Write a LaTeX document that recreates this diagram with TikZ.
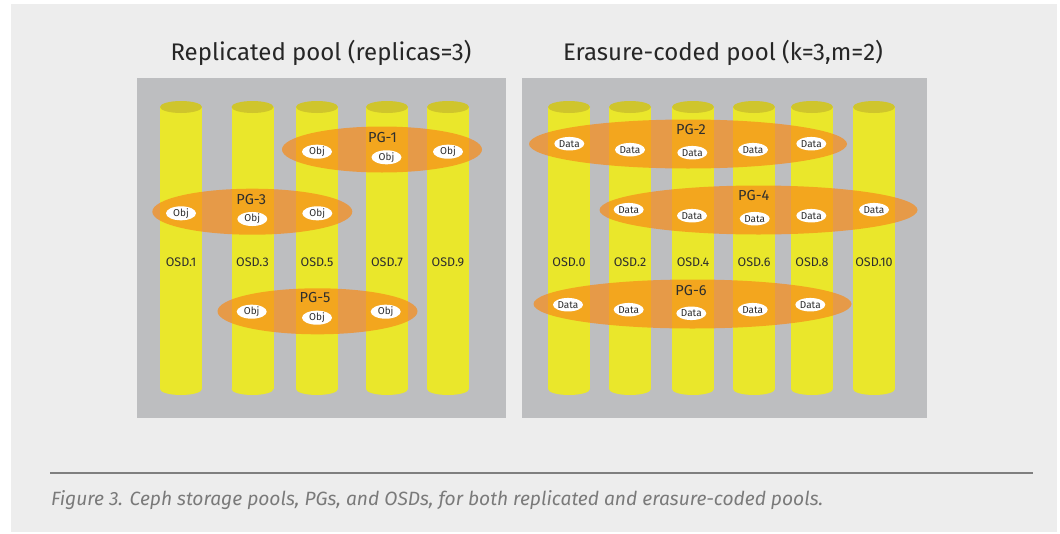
\documentclass[tikz,border=0pt]{standalone}
\usepackage{fontspec}
\setmainfont{Fira Sans}
\usetikzlibrary{shapes.geometric}
\definecolor{pagebg}{HTML}{EDEDED}
\definecolor{panelbg}{HTML}{BDBEC0}
\definecolor{osdbody}{HTML}{EAE72B}
\definecolor{osdcap}{HTML}{CFC52C}
\definecolor{pgorange}{RGB}{247,141,26}
\definecolor{txt}{HTML}{2E2E2E}
\definecolor{captxt}{HTML}{7A7A7A}
\definecolor{rulecol}{HTML}{7F7F7F}
\begin{document}
\begin{tikzpicture}[x=1pt,y=-1pt,
  osdlabel/.style={font=\fontsize{12.5}{14}\selectfont, text=txt, inner sep=0},
  pgshape/.style={ellipse, fill=pgorange, fill opacity=0.72, inner sep=0},
  pglabel/.style={font=\fontsize{14.5}{17}\selectfont, text=txt, inner sep=0},
  item/.style={ellipse, fill=white, inner sep=0, minimum width=30pt, minimum height=13.5pt,
    font=\fontsize{10}{11}\selectfont, text=txt},
  title/.style={font=\fontsize{24}{28}\selectfont, text=black!85, inner sep=0}
]
\useasboundingbox (0,0) rectangle (1060,533);
\fill[white] (0,0) rectangle (1060,533);
\fill[pagebg] (11,4) rectangle (1057,532);
% panels
\fill[panelbg] (137,78) rectangle (506,418);
\fill[panelbg] (522,78) rectangle (927,418);
% titles
\node[title] (t1) at (321,53) {Replicated pool (replicas=3)};
\node[title] (t2) at (723,53) {Erasure-coded pool (k=3,m=2)};
% cylinders
\foreach \cx/\nm/\lb in {181/o1/OSD.1, 252.5/o3/OSD.3, 317/o5/OSD.5, 387/o7/OSD.7, 448/o9/OSD.9,
  569/o0/OSD.0, 630/o2/OSD.2, 693/o4/OSD.4, 754/o6/OSD.6, 812/o8/OSD.8, 874/o10/OSD.10}{
  \fill[osdbody] (\cx-21,107) rectangle (\cx+21,389);
  \fill[osdbody] (\cx,389) ellipse [x radius=21, y radius=6];
  \fill[osdcap] (\cx,107) ellipse [x radius=21, y radius=6];
  \node[osdlabel] (\nm) at (\cx,262) {\lb};
}
% replicated PGs
\node[pgshape, minimum width=200pt, minimum height=46pt] (pg1) at (382,149.5) {};
\node[pglabel] (pg1l) at (382.5,137.5) {PG-1};
\node[item] (pg1a) at (317,151.7) {Obj};
\node[item] (pg1b) at (386.5,157.3) {Obj};
\node[item] (pg1c) at (448,151.7) {Obj};

\node[pgshape, minimum width=200pt, minimum height=46pt] (pg3) at (252.3,211.7) {};
\node[pglabel] (pg3l) at (251.3,199.3) {PG-3};
\node[item] (pg3a) at (181,213.3) {Obj};
\node[item] (pg3b) at (252.3,219) {Obj};
\node[item] (pg3c) at (317.3,213.3) {Obj};

\node[pgshape, minimum width=200pt, minimum height=46pt] (pg5) at (317.5,311.3) {};
\node[pglabel] (pg5l) at (315,297.3) {PG-5};
\node[item] (pg5a) at (251.7,311.7) {Obj};
\node[item] (pg5b) at (317,317.7) {Obj};
\node[item] (pg5c) at (385.7,311.7) {Obj};
% erasure-coded PGs
\node[pgshape, minimum width=318pt, minimum height=49pt] (pg2) at (688,144) {};
\node[pglabel] (pg2l) at (691,129.3) {PG-2};
\node[item] (pg2a) at (569.3,143.7) {Data};
\node[item] (pg2b) at (630,149.7) {Data};
\node[item] (pg2c) at (692.3,152.7) {Data};
\node[item] (pg2d) at (753,149.7) {Data};
\node[item] (pg2e) at (811.3,143.7) {Data};

\node[pgshape, minimum width=318pt, minimum height=49pt] (pg4) at (758.5,210) {};
\node[pglabel] (pg4l) at (753.7,195.7) {PG-4};
\node[item] (pg4a) at (628.7,209.7) {Data};
\node[item] (pg4b) at (692,215.7) {Data};
\node[item] (pg4c) at (754.7,218.7) {Data};
\node[item] (pg4d) at (811.3,215.7) {Data};
\node[item] (pg4e) at (874,209.7) {Data};

\node[pgshape, minimum width=318pt, minimum height=49pt] (pg6) at (692.5,304) {};
\node[pglabel] (pg6l) at (691,290.7) {PG-6};
\node[item] (pg6a) at (568,304.7) {Data};
\node[item] (pg6b) at (628.7,309.7) {Data};
\node[item] (pg6c) at (691.3,313.3) {Data};
\node[item] (pg6d) at (752.7,309.7) {Data};
\node[item] (pg6e) at (810.3,304.7) {Data};
% caption
\coordinate (rl) at (50,473);
\coordinate (rr) at (1033,473);
\draw[rulecol, line width=1.5pt] (rl) -- (rr);
\node[anchor=west, inner sep=0, text=captxt, font=\fontsize{19.2}{22}\selectfont\itshape] (cap) at (51,500)
  {Figure 3. Ceph storage pools, PGs, and OSDs, for both replicated and erasure-coded pools.};
\end{tikzpicture}
\end{document}
